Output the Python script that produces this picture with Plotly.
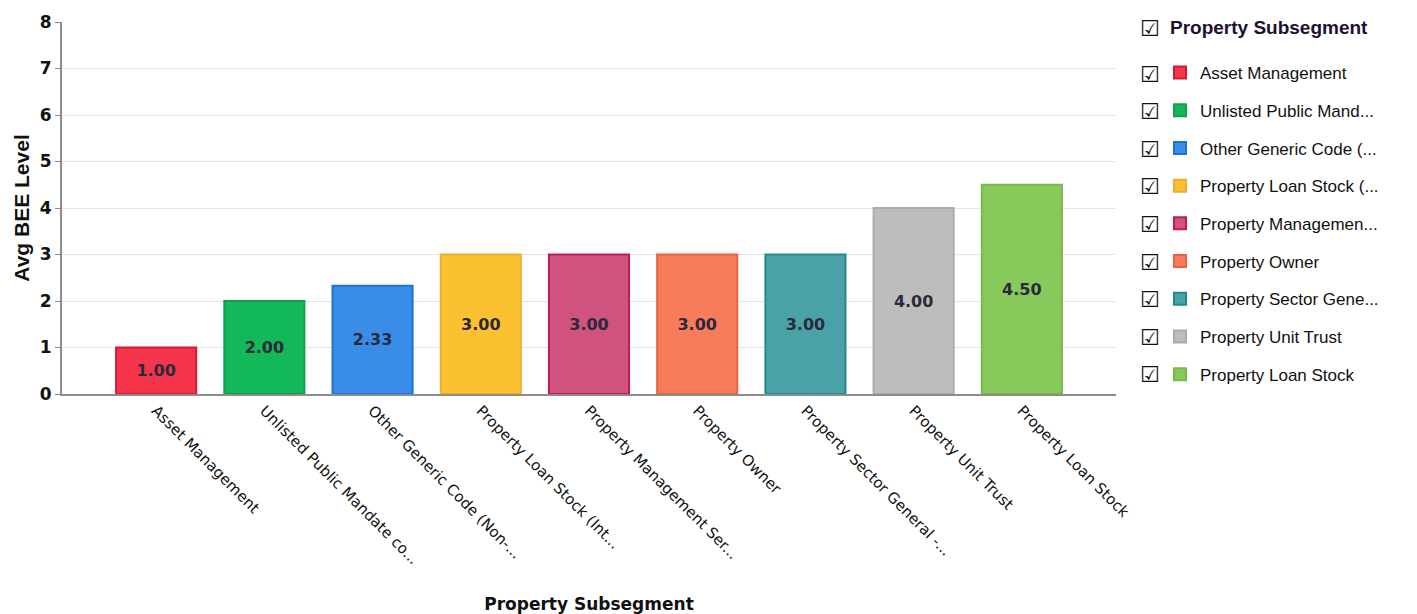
import plotly.graph_objects as go

categories = [
    "Asset Management",
    "Unlisted Public Mandate co...",
    "Other Generic Code (Non-...",
    "Property Loan Stock (Int...",
    "Property Management Ser...",
    "Property Owner",
    "Property Sector General -...",
    "Property Unit Trust",
    "Property Loan Stock",
]
legend_names = [
    "Asset Management",
    "Unlisted Public Mand...",
    "Other Generic Code (...",
    "Property Loan Stock (...",
    "Property Managemen...",
    "Property Owner",
    "Property Sector Gene...",
    "Property Unit Trust",
    "Property Loan Stock",
]
legend_title = "Property Subsegment"
values = [1.00, 2.00, 2.33, 3.00, 3.00, 3.00, 3.00, 4.00, 4.50]
fill_colors = ["#F5354C", "#13B85B", "#3A8DE6", "#FBC130", "#D0527F",
               "#F87C5C", "#4AA2A6", "#BDBDBD", "#88C95B"]
line_colors = ["#D41C30", "#0FA04F", "#1C72D8", "#E8B030", "#C01A5C",
               "#E8623F", "#1F8B90", "#ABABAB", "#78B84C"]
y_ticks = [0, 1, 2, 3, 4, 5, 6, 7, 8]

W, H = 1417, 614
ML, MR, MT, MB = 62, 301, 22, 220
PW, PH = W - ML - MR, H - MT - MB

fig = go.Figure()
for i, (cat, name, v) in enumerate(zip(categories, legend_names, values)):
    fig.add_trace(go.Bar(
        x=[cat], y=[v], name=name, legendgroup=f"g{i}",
        width=0.74,
        marker=dict(color=fill_colors[i], line=dict(color=line_colors[i], width=2)),
        text=[f"{v:.2f}"], textposition="inside", insidetextanchor="middle",
        textfont=dict(family="DejaVu Sans", size=16, color="#2a2a3a", weight="bold"),
        textangle=0, constraintext="none",
    ))

def px_to_paper(px, py):
    return (px - ML) / PW, (H - MB - py) / PH

annotations = []
# legend title
xp, yp = px_to_paper(1168, 28)
annotations.append(dict(
    x=xp, y=yp, xref="paper", yref="paper", text=f"<b>{legend_title}</b>", showarrow=False,
    font=dict(family="Liberation Sans, Arial", size=19, color="#1e0f33"),
    xanchor="left", yanchor="middle"))
# checkbox glyphs next to legend rows
row_y = [29] + [74 + 37.6 * k for k in range(len(categories))]
for py in row_y:
    xp, yp = px_to_paper(1150, py)
    annotations.append(dict(
        x=xp, y=yp, xref="paper", yref="paper", text="\u2611", showarrow=False,
        font=dict(family="DejaVu Sans", size=22, color="#111"),
        xanchor="center", yanchor="middle"))

fig.update_layout(
    width=W, height=H,
    margin=dict(l=ML, r=MR, t=MT, b=MB, autoexpand=False),
    paper_bgcolor="white", plot_bgcolor="white",
    barmode="overlay",
    showlegend=True,
    legend=dict(
        x=(1160 - ML) / PW, xanchor="left",
        y=(H - MB - 55) / PH, yanchor="top",
        traceorder="grouped", tracegroupgap=12.6,
        maxheight=1000,
        font=dict(family="Liberation Sans, Arial", size=17, color="#111"),
        bgcolor="rgba(0,0,0,0)",
    ),
    annotations=annotations,
    xaxis=dict(
        type="category", categoryorder="array", categoryarray=categories,
        range=[-0.87, len(categories) - 1 + 0.87],
        tickangle=45, showgrid=False, automargin=False,
        tickfont=dict(family="DejaVu Sans", size=15, color="#111"),
        showline=True, linecolor="#8c8c8c", linewidth=2, ticks="",
        title=dict(text="Property Subsegment", standoff=42,
                   font=dict(family="DejaVu Sans", size=17, color="#111", weight="bold")),
    ),
    yaxis=dict(
        range=[0, 8], tickvals=y_ticks, ticktext=[str(t) for t in y_ticks],
        showgrid=True, gridcolor="#e3e3e3", gridwidth=1, automargin=False,
        showline=True, linecolor="#8c8c8c", linewidth=2,
        ticks="outside", ticklen=5, tickcolor="#8c8c8c",
        zeroline=False,
        tickfont=dict(family="DejaVu Sans", size=17, color="#111", weight="bold"),
        title=dict(text="Avg BEE Level", standoff=4,
                   font=dict(family="Liberation Sans, Arial", size=21, color="#111", weight="bold")),
    ),
)

fig.write_html("out.html")
